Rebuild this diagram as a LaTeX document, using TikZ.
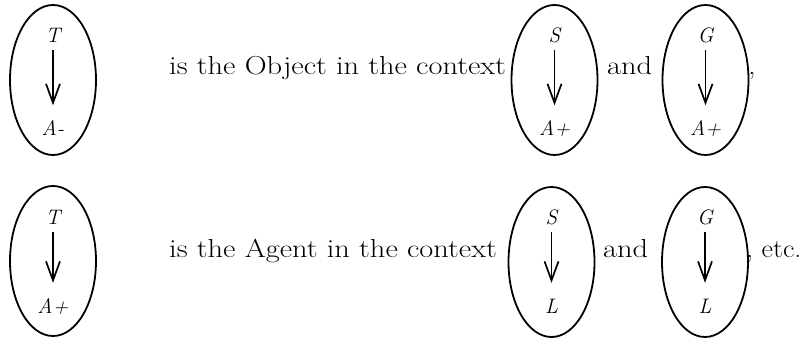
\documentclass[tikz,border=0pt]{standalone}
\usetikzlibrary{arrows.meta,shapes.geometric}
\newcommand{\wide}[1]{\scalebox{1.17}[1]{#1}}
\begin{document}
\begin{tikzpicture}[x=1pt,y=1pt,
  oval/.style={draw,line width=1.8pt,ellipse,minimum width=86pt,minimum height=150pt,inner sep=0pt},
  lab/.style={font=\fontsize{21}{23}\selectfont\itshape,inner sep=0pt,text height=14pt,text depth=0pt},
  txt/.style={font=\fontsize{26}{30}\selectfont,inner sep=0pt,anchor=base west},
  rel/.style={line width=1.7pt,shorten <=7pt,shorten >=16pt,-{Straight Barb[length=19pt,width=14pt,line width=1.7pt]}}]
\useasboundingbox (0,0) rectangle (805,340);
% row 1
\node[oval] (e1) at (53,260) {};
\node[lab] (t1) at (53,304.5) {T};
\node[lab] (b1) at (53,211.5) {A-};
\draw[rel] (t1) -- (b1);
\node[oval] (e2) at (554.5,260) {};
\node[lab] (t2) at (554.5,304.5) {S};
\node[lab] (b2) at (554.5,211.5) {A+};
\draw[rel] (t2.south) -- (t2.south |- b2.north);
\node[oval] (e3) at (705.5,260) {};
\node[lab] (t3) at (705.5,304.5) {G};
\node[lab] (b3) at (705.5,211.5) {A+};
\draw[rel] (t3.south) -- (t3.south |- b3.north);
\node[txt] (s1) at (169,265) {\wide{is the Object in the context}};
\node[txt] (a1) at (607,265) {\wide{and}};
\node[txt] (c1) at (748,265) {\wide{,}};
% row 2
\node[oval] (f1) at (53,79) {};
\node[lab] (u1) at (53,122) {T};
\node[lab] (d1) at (53,34) {A+};
\draw[rel] (u1.south) -- (u1.south |- d1.north);
\node[oval] (f2) at (551.5,78) {};
\node[lab] (u2) at (551.5,122) {S};
\node[lab] (d2) at (551.5,34) {L};
\draw[rel] (u2.south) -- (u2.south |- d2.north);
\node[oval] (f3) at (705,78) {};
\node[lab] (u3) at (705,122) {G};
\node[lab] (d3) at (705,34) {L};
\draw[rel] (u3.south) -- (u3.south |- d3.north);
\node[txt] (s2) at (169,82) {\wide{is the Agent in the context}};
\node[txt] (a2) at (603,82) {\wide{and}};
\node[txt] (c2) at (746,82) {\scalebox{1.08}[1]{, etc.}};
\end{tikzpicture}
\end{document}
